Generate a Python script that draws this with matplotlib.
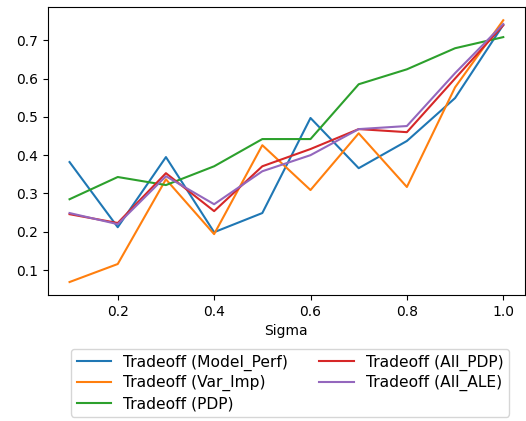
import matplotlib
matplotlib.use("Agg")
import matplotlib.pyplot as plt

sigma = [0.1, 0.2, 0.3, 0.4, 0.5, 0.6, 0.7, 0.8, 0.9, 1.0]
model_perf = [0.382, 0.212, 0.395, 0.199, 0.249, 0.497, 0.366, 0.437, 0.549, 0.740]
var_imp = [0.069, 0.116, 0.337, 0.194, 0.426, 0.309, 0.457, 0.317, 0.577, 0.752]
pdp = [0.285, 0.343, 0.322, 0.371, 0.442, 0.442, 0.585, 0.624, 0.679, 0.708]
all_pdp = [0.246, 0.223, 0.353, 0.254, 0.371, 0.416, 0.468, 0.460, 0.600, 0.739]
all_ale = [0.249, 0.220, 0.345, 0.272, 0.358, 0.400, 0.468, 0.476, 0.614, 0.742]

labels = ["Tradeoff (Model_Perf)", "Tradeoff (Var_Imp)", "Tradeoff (PDP)",
          "Tradeoff (All_PDP)", "Tradeoff (All_ALE)"]
series = [model_perf, var_imp, pdp, all_pdp, all_ale]

fig = plt.figure(figsize=(5.26, 4.21), dpi=100)
ax = fig.add_axes([0.091, 0.299, 0.907, 0.684])
for s, lab in zip(series, labels):
    ax.plot(sigma, s, label=lab)
ax.set_xlabel("Sigma")
ax.set_xticks([0.2, 0.4, 0.6, 0.8, 1.0])
ax.set_yticks([0.1, 0.2, 0.3, 0.4, 0.5, 0.6, 0.7])
ax.legend(loc="upper center", bbox_to_anchor=(0.508, -0.16), ncol=2,
          prop={"size": 11.2}, labelspacing=0.3, handlelength=2.2,
          borderpad=0.35, columnspacing=2.0)
fig.savefig("out.png", dpi=100)
